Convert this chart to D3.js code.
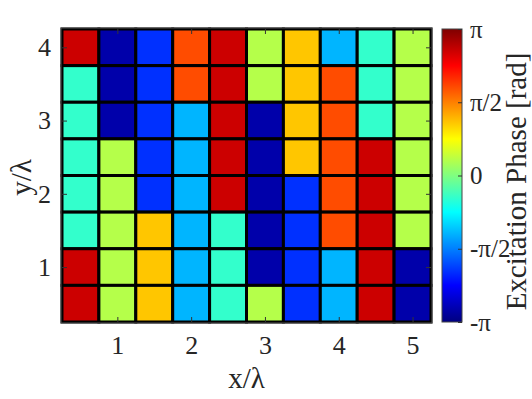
<!DOCTYPE html>
<html>
<head>
<meta charset="utf-8">
<script src="https://cdn.jsdelivr.net/npm/d3@7"></script>
<style>
  body { margin: 0; background: #fff; }
</style>
</head>
<body>
<div id="chart"></div>
<script>
(function(){
	var width = 532,
	    height = 399;

	// element centres in wavelengths
	var xPos = [0.5, 1.0, 1.5, 2.0, 2.5, 3.0, 3.5, 4.0, 4.5, 5.0];
	var yPos = [4.0, 3.5, 3.0, 2.5, 2.0, 1.5, 1.0, 0.5];

	// excitation phase in degrees, one row per y (top to bottom)
	var phaseRows = [
		[ 153, -165, -118,  108,  153,   19,   65,  -71,  -27,   19],
		[ -27, -165, -118,  108,  153,   19,   65,  108,  -27,   19],
		[ -27, -165, -118,  -71,  153, -165,   65,  108,  -27,   19],
		[ -27,   19, -118,  -71,  153, -165,   65,  108,  153,   19],
		[ -27,   19, -118,  -71,  153, -165, -118,  108,  153,   19],
		[ -27,   19,   65,  -71,  -27, -165, -118,  108,  153,   19],
		[ 153,   19,   65,  -71,  -27, -165, -118,  -71,  153, -165],
		[ 153,   19,   65,  -71,  -27,   19, -118,  -71,  153, -165]
	];

	var xTicks = [1, 2, 3, 4, 5];
	var yTicks = [1, 2, 3, 4];
	var cbTicks = [-Math.PI, -Math.PI / 2, 0, Math.PI / 2, Math.PI];
	var cbTickLabels = ["-\u03c0", "-\u03c0/2", "0", "\u03c0/2", "\u03c0"];

	var FONT = "'Liberation Serif', 'Times New Roman'";
	var TEXT_COLOR = "#262626";

	// flatten into cells
	var cells = [];
	phaseRows.forEach(function(row, i) {
		row.forEach(function(deg, j) {
			cells.push({ x: xPos[j], y: yPos[i], phase: deg * Math.PI / 180 });
		});
	});

	// MATLAB style jet colormap
	function jet(t) {
		function c(v) { return Math.max(0, Math.min(1, v)); }
		var r = c(1.5 - Math.abs(4 * t - 3)),
		    g = c(1.5 - Math.abs(4 * t - 2)),
		    b = c(1.5 - Math.abs(4 * t - 1));
		return d3.rgb(r * 255, g * 255, b * 255).toString();
	}

	var plotL = 62, plotR = 431, plotT = 29, plotB = 322;

	var x = d3.scaleLinear().domain([0.25, 5.25]).range([plotL, plotR]);
	var y = d3.scaleLinear().domain([0.25, 4.25]).range([plotB, plotT]);
	var phaseToT = d3.scaleLinear().domain([-Math.PI, Math.PI]).range([0, 1]);

	var svg = d3.select("#chart")
	  .append("svg")
	  .attr("width", width)
	  .attr("height", height);

	var defs = svg.append("defs");

	// cells
	svg.append("g").selectAll("rect")
	  .data(cells)
	  .enter().append("rect")
	  .attr("x", function(d) { return x(d.x - 0.25); })
	  .attr("y", function(d) { return y(d.y + 0.25); })
	  .attr("width", function(d) { return x(d.x + 0.25) - x(d.x - 0.25); })
	  .attr("height", function(d) { return y(d.y - 0.25) - y(d.y + 0.25); })
	  .attr("fill", function(d) { return jet(phaseToT(d.phase)); })
	  .attr("stroke", "#000")
	  .attr("stroke-width", 3);

	// axes, ticks inward like matlab
	var tickLen = 5;
	var axisColor = "#333";
	var fmt = d3.format("d");

	function styleAxis(g, size) {
		g.select(".domain").remove();
		g.selectAll("line").attr("stroke", axisColor);
		g.selectAll("text")
		  .attr("fill", TEXT_COLOR)
		  .style("font-family", FONT)
		  .style("font-size", size + "px");
	}

	svg.append("g")
	  .attr("transform", "translate(0," + plotB + ")")
	  .call(d3.axisBottom(x).tickValues(xTicks).tickFormat(fmt).tickSizeInner(-tickLen).tickSizeOuter(0).tickPadding(14))
	  .call(styleAxis, 26);

	svg.append("g")
	  .attr("transform", "translate(0," + plotT + ")")
	  .call(d3.axisTop(x).tickValues(xTicks).tickSizeInner(-tickLen).tickSizeOuter(0).tickFormat(""))
	  .call(styleAxis, 26);

	svg.append("g")
	  .attr("transform", "translate(" + plotL + ",0)")
	  .call(d3.axisLeft(y).tickValues(yTicks).tickFormat(fmt).tickSizeInner(-tickLen).tickSizeOuter(0).tickPadding(11))
	  .call(styleAxis, 26);

	svg.append("g")
	  .attr("transform", "translate(" + plotR + ",0)")
	  .call(d3.axisRight(y).tickValues(yTicks).tickSizeInner(-tickLen).tickSizeOuter(0).tickFormat(""))
	  .call(styleAxis, 26);

	// box
	svg.append("rect")
	  .attr("x", plotL - 1)
	  .attr("y", plotT - 1)
	  .attr("width", plotR - plotL + 2)
	  .attr("height", plotB - plotT + 2)
	  .attr("fill", "none")
	  .attr("stroke", "#555")
	  .attr("stroke-width", 1);

	// axis labels
	svg.append("text")
	  .attr("x", (plotL + plotR) / 2)
	  .attr("y", 388)
	  .attr("text-anchor", "middle")
	  .attr("fill", TEXT_COLOR)
	  .style("font-family", FONT)
	  .style("font-size", "29px")
	  .text("x/\u03bb");

	svg.append("text")
	  .attr("transform", "translate(31," + ((plotT + plotB) / 2 + 2) + ") rotate(-90)")
	  .attr("text-anchor", "middle")
	  .attr("fill", TEXT_COLOR)
	  .style("font-family", FONT)
	  .style("font-size", "29px")
	  .text("y/\u03bb");

	// colorbar
	var cbL = 442, cbW = 20;
	var cbY = d3.scaleLinear().domain([-Math.PI, Math.PI]).range([plotB, plotT]);

	var grad = defs.append("linearGradient")
	  .attr("id", "jet-grad")
	  .attr("x1", 0).attr("y1", 1)
	  .attr("x2", 0).attr("y2", 0);

	grad.selectAll("stop")
	  .data(d3.range(0, 1.0001, 1 / 64))
	  .enter().append("stop")
	  .attr("offset", function(d) { return d; })
	  .attr("stop-color", function(d) { return jet(d); });

	svg.append("rect")
	  .attr("x", cbL)
	  .attr("y", plotT)
	  .attr("width", cbW)
	  .attr("height", plotB - plotT)
	  .attr("fill", "url(#jet-grad)")
	  .attr("stroke", "#444")
	  .attr("stroke-width", 1);

	svg.append("g")
	  .attr("transform", "translate(" + (cbL + cbW) + ",0)")
	  .call(d3.axisRight(cbY).tickValues(cbTicks).tickSizeInner(-4).tickSizeOuter(0).tickPadding(8)
	    .tickFormat(function(d, i) { return cbTickLabels[i]; }))
	  .call(styleAxis, 25);

	svg.append("text")
	  .attr("transform", "translate(526," + ((plotT + plotB) / 2 + 6) + ") rotate(-90)")
	  .attr("text-anchor", "middle")
	  .attr("fill", TEXT_COLOR)
	  .style("font-family", FONT)
	  .style("font-size", "29px")
	  .text("Excitation Phase [rad]");
})();
</script>
</body>
</html>
